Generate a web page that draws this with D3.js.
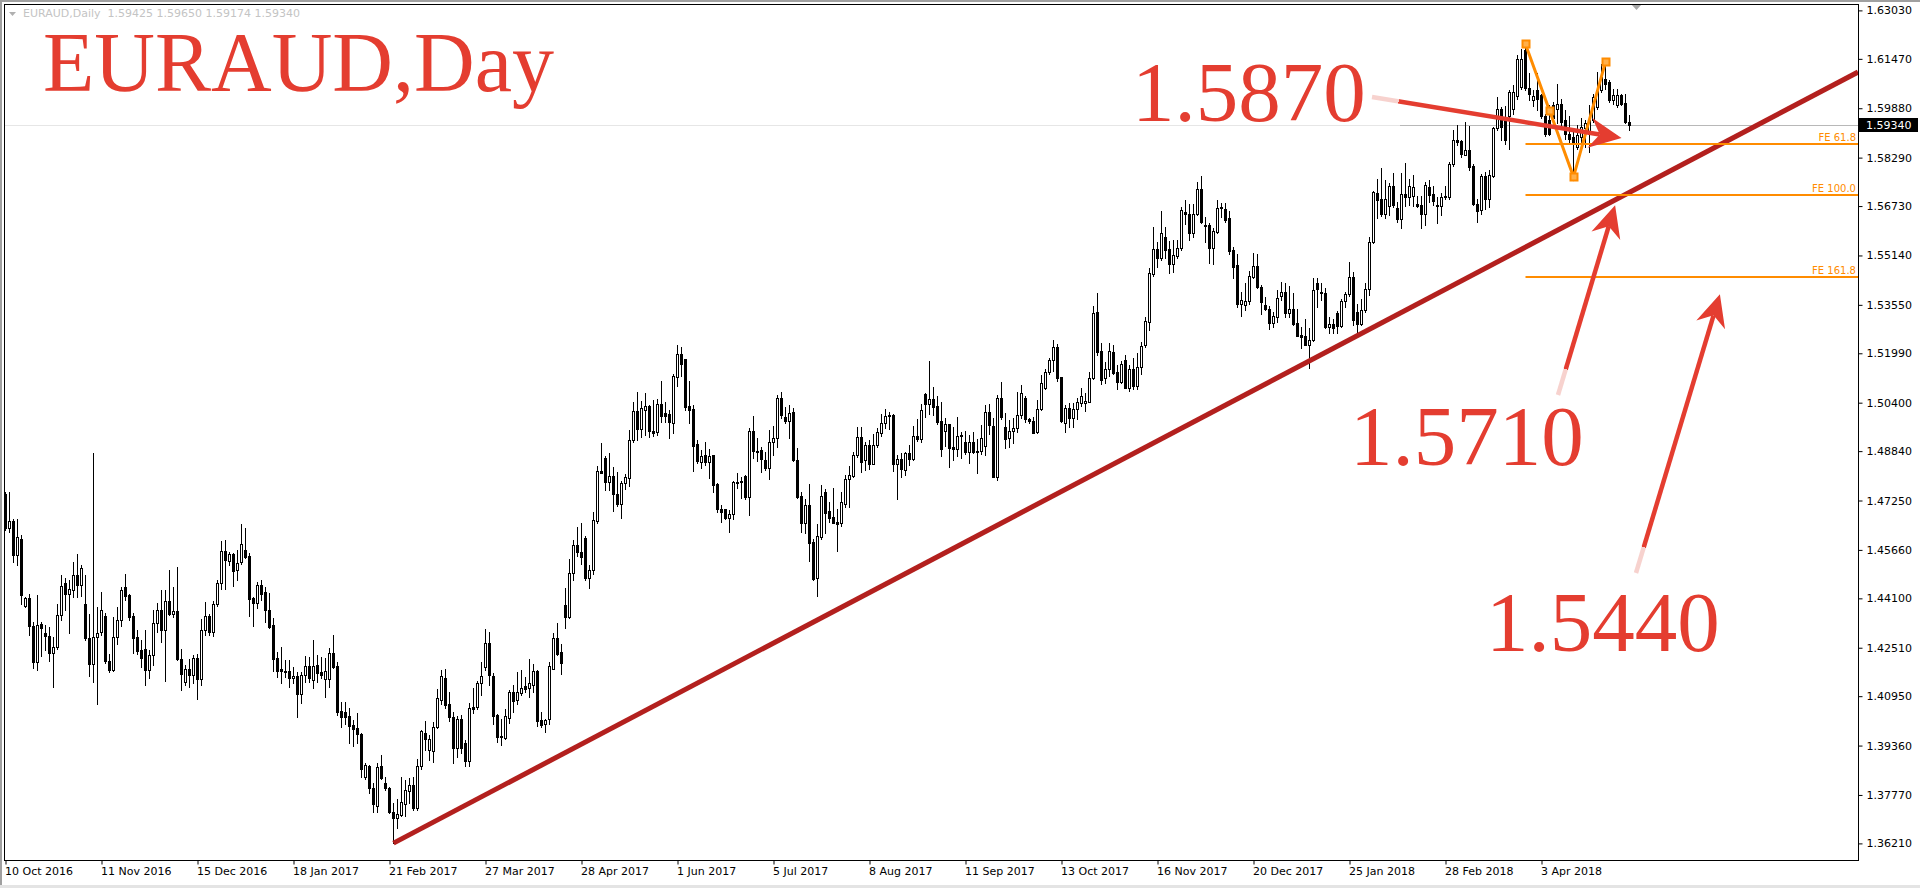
<!DOCTYPE html>
<html>
<head>
<meta charset="utf-8">
<title>EURAUD, Day</title>
<script src="https://cdn.jsdelivr.net/npm/d3@7"></script>
<style>
  html, body { margin: 0; padding: 0; background: #fff; overflow: hidden; }
  svg { display: block; }
  text { white-space: pre; }
</style>
</head>
<body>
<svg id="chart" width="1920" height="888"></svg>
<script>
// Daily EURAUD bars from 10 Oct 2016, prices in 1/10000 units
var opens = [
  14747,14638,14658,14549,14600,14386,14412,14320,14205,14327,
  14297,14290,14235,14254,14355,14458,14425,14437,14484,14454,
  14393,14282,14200,14284,14302,14352,14209,14179,14286,14340,
  14446,14420,14352,14286,14243,14248,14179,14227,14332,14374,
  14307,14401,14361,14369,14216,14141,14181,14162,14219,14149,
  14307,14352,14301,14393,14458,14562,14531,14552,14500,14526,
  14565,14546,14410,14396,14453,14429,14374,14323,14217,14182,
  14177,14176,14152,14160,14101,14162,14192,14147,14195,14173,
  14151,14151,14233,14192,14046,14043,14031,14003,13991,13972,
  13834,13870,13798,13743,13870,13817,13798,13723,13702,13712,
  13747,13791,13809,13734,13871,13978,13922,13919,13997,14083,
  14155,14069,14029,13929,14021,13945,13887,14061,14059,14136,
  14190,14265,14159,14034,13963,13961,14025,14109,14082,14104,
  14127,14122,14130,14176,14018,14007,14021,14184,14281,14236,
  14388,14350,14493,14583,14558,14603,14476,14501,14659,14819,
  14862,14785,14803,14747,14713,14780,14798,14919,15013,14955,
  15016,15029,14949,14946,15035,15007,15003,14975,15123,15198,
  15180,15029,15019,14906,14849,14871,14849,14871,14778,14699,
  14697,14669,14683,14780,14787,14803,14737,14948,14886,14887,
  14855,14830,14912,14925,15056,14993,14982,15011,14857,14739,
  14653,14710,14592,14476,14608,14753,14691,14672,14657,14651,
  14713,14793,14805,14871,14928,14857,14903,14844,14903,14943,
  14973,14998,15000,14841,14860,14823,14879,14858,14932,14922,
  15067,15037,15051,15029,14981,14950,14970,14896,14890,14934,
  14912,14880,14914,14880,14884,14900,15011,14966,14802,15054,
  14961,14925,14950,14957,15000,15054,14986,14982,14947,15019,
  15088,15138,15177,15220,15122,14973,15022,14992,15019,15040,
  15038,15043,15118,15333,15206,15120,15150,15204,15138,15107,
  15179,15088,15150,15095,15154,15226,15301,15453,15534,15507,
  15572,15535,15485,15512,15537,15655,15647,15585,15646,15728,
  15612,15612,15539,15590,15671,15662,15633,15531,15483,15359,
  15356,15368,15445,15480,15413,15354,15341,15297,15317,15384,
  15395,15329,15343,15295,15258,15254,15227,15241,15424,15397,
  15394,15284,15293,15330,15287,15367,15390,15445,15333,15292,
  15338,15405,15556,15714,15695,15649,15673,15737,15668,15630,
  15711,15703,15706,15681,15676,15646,15733,15713,15673,15674,
  15706,15703,15810,15885,15882,15839,15855,15801,15681,15660,
  15770,15697,15770,15923,15984,15960,15962,15985,16027,16057,
  16175,16054,16016,16046,16030,15962,15951,15998,15987,16001,
  15949,15906,15894,15863,15896,15925,15906,15949,15992,16046,
  16083,16073,16014,15998,16030,16005,15943
];
var highs = [
  14753,14753,14665,14665,14615,14415,14423,14334,14422,14334,
  14323,14318,14286,14391,14484,14474,14468,14527,14554,14517,
  14484,14361,14879,14382,14430,14364,14232,14350,14382,14447,
  14487,14425,14363,14307,14275,14307,14243,14372,14395,14436,
  14436,14500,14447,14511,14248,14195,14216,14227,14232,14342,
  14399,14361,14401,14468,14595,14597,14558,14556,14565,14650,
  14635,14555,14415,14464,14469,14447,14428,14346,14238,14252,
  14211,14211,14190,14174,14174,14224,14222,14276,14227,14222,
  14217,14251,14292,14204,14077,14077,14056,14018,14042,13977,
  13879,13873,13814,13879,13905,13836,13804,13750,13763,13834,
  13825,13830,13834,13892,13986,14015,13970,14013,14118,14179,
  14181,14109,14045,14032,14034,13954,14072,14122,14144,14206,
  14310,14302,14170,14039,14023,14055,14114,14130,14173,14179,
  14157,14216,14200,14179,14045,14023,14206,14297,14331,14262,
  14442,14538,14599,14640,14651,14610,14517,14688,14835,14911,
  14868,14878,14833,14817,14788,14809,14951,15043,15075,15046,
  15072,15032,15048,15053,15109,15043,15018,15132,15225,15220,
  15182,15109,15032,14921,14887,14914,14892,14873,14780,14712,
  14699,14694,14787,14812,14801,14807,14957,14997,14925,14898,
  14882,14952,14965,15066,15075,15027,15032,15024,14893,14751,
  14730,14778,14600,14648,14775,14761,14719,14764,14699,14751,
  14807,14836,14882,14962,14962,14912,14919,14939,14959,15005,
  15019,15011,15002,14871,14879,14882,14905,14965,14987,15035,
  15072,15174,15091,15060,15041,14990,14972,14963,14993,14947,
  14949,14936,14945,14923,14968,15032,15035,14990,15065,15108,
  15006,14984,14990,15073,15097,15060,14990,14995,15049,15129,
  15148,15185,15242,15228,15124,15032,15040,15040,15056,15086,
  15070,15140,15351,15392,15233,15172,15233,15226,15161,15174,
  15193,15161,15183,15199,15236,15317,15472,15607,15556,15657,
  15607,15560,15564,15565,15671,15694,15681,15679,15749,15769,
  15638,15617,15601,15694,15683,15683,15657,15542,15520,15397,
  15424,15465,15522,15518,15418,15381,15351,15333,15402,15429,
  15424,15415,15392,15343,15284,15311,15279,15443,15443,15424,
  15408,15317,15311,15336,15375,15397,15494,15461,15357,15375,
  15426,15574,15722,15759,15794,15756,15746,15780,15687,15778,
  15812,15759,15772,15706,15706,15751,15756,15738,15703,15716,
  15737,15815,15917,15933,15885,15944,15930,15810,15697,15776,
  15783,15788,15928,16024,15992,15994,16046,16062,16159,16180,
  16195,16100,16046,16100,16035,15971,15998,16008,16067,16019,
  15982,15962,15917,15933,15955,15949,15998,16035,16105,16132,
  16137,16078,16051,16051,16035,16035,15965
];
var lows = [
  14629,14624,14527,14517,14391,14382,14291,14186,14179,14224,
  14243,14209,14125,14248,14340,14372,14297,14415,14415,14419,
  14277,14159,14141,14071,14291,14202,14173,14177,14262,14321,
  14406,14340,14235,14232,14189,14130,14152,14194,14302,14268,
  14144,14356,14350,14211,14116,14130,14123,14136,14087,14132,
  14291,14291,14289,14386,14441,14441,14517,14450,14468,14519,
  14539,14353,14321,14380,14405,14335,14313,14177,14156,14138,
  14158,14126,14138,14027,14074,14142,14142,14120,14142,14152,
  14093,14126,14185,14036,13995,14007,13945,13936,13945,13836,
  13827,13782,13723,13723,13827,13793,13718,13623,13670,13709,
  13709,13752,13728,13728,13862,13922,13889,13884,13991,14070,
  14056,14015,13879,13900,13913,13870,13870,14040,14055,14098,
  14179,14130,14005,13948,13937,13956,14009,14045,14071,14100,
  14109,14093,14109,13998,13996,13980,14007,14181,14229,14168,
  14316,14348,14468,14546,14522,14468,14442,14487,14651,14812,
  14760,14760,14692,14707,14670,14761,14772,14914,14919,14930,
  14937,14930,14933,14937,14978,14978,14927,14941,15094,15126,
  15016,14973,14820,14846,14831,14839,14799,14753,14689,14657,
  14665,14624,14667,14764,14732,14730,14678,14862,14853,14817,
  14823,14794,14871,14898,14991,14973,14927,14852,14734,14624,
  14619,14531,14469,14418,14600,14619,14657,14651,14563,14644,
  14705,14705,14801,14865,14817,14823,14828,14841,14898,14933,
  14957,14955,14820,14730,14801,14807,14839,14855,14915,14912,
  14995,15005,15000,14970,14869,14902,14834,14855,14869,14863,
  14875,14845,14877,14813,14875,14871,14938,14800,14791,14986,
  14895,14898,14909,14947,14990,14979,14973,14941,14941,15016,
  15084,15131,15142,15110,14979,14947,14963,14963,14987,15030,
  15013,15041,15115,15193,15100,15104,15127,15132,15084,15104,
  15086,15077,15084,15084,15132,15220,15274,15448,15478,15499,
  15505,15456,15462,15505,15533,15615,15565,15572,15644,15619,
  15558,15490,15485,15587,15638,15622,15518,15440,15347,15320,
  15338,15359,15443,15408,15325,15338,15276,15284,15300,15370,
  15317,15317,15290,15254,15217,15225,15153,15239,15349,15372,
  15279,15263,15265,15265,15284,15349,15384,15290,15261,15290,
  15333,15386,15553,15633,15642,15633,15644,15671,15622,15604,
  15674,15676,15674,15670,15604,15611,15686,15676,15617,15644,
  15697,15697,15801,15869,15831,15837,15788,15676,15622,15649,
  15665,15670,15767,15917,15885,15874,15858,15971,16019,16051,
  16048,16014,15994,15982,15955,15898,15901,15944,15939,15928,
  15890,15874,15770,15858,15869,15863,15847,15944,15987,16041,
  16051,16008,16003,15992,15998,15939,15917
];
var closes = [
  14635,14658,14551,14606,14422,14412,14320,14205,14323,14313,
  14289,14235,14254,14355,14451,14425,14439,14484,14454,14509,
  14283,14200,14284,14300,14374,14209,14179,14286,14340,14436,
  14418,14350,14283,14240,14219,14179,14227,14332,14374,14307,
  14401,14361,14369,14214,14165,14181,14162,14219,14149,14307,
  14352,14301,14393,14458,14562,14533,14552,14498,14525,14584,
  14544,14408,14396,14453,14423,14374,14317,14215,14177,14177,
  14175,14152,14160,14101,14162,14192,14152,14192,14171,14164,
  14176,14233,14190,14043,14027,14029,14000,13989,13972,13859,
  13872,13798,13747,13868,13830,13798,13723,13704,13716,13753,
  13793,13809,13734,13871,13983,13956,13956,13997,14088,14161,
  14066,14029,13929,14021,13927,13887,14056,14054,14138,14159,
  14265,14163,14032,13964,13966,14031,14107,14080,14107,14120,
  14119,14139,14176,14016,14002,14018,14192,14281,14232,14203,
  14350,14493,14583,14560,14544,14476,14501,14662,14819,14814,
  14785,14803,14747,14713,14780,14801,14921,15013,14955,15023,
  15029,14948,14943,15035,14996,14997,14978,15125,15198,15163,
  15026,15016,14900,14853,14868,14849,14869,14775,14697,14689,
  14669,14683,14783,14785,14783,14737,14948,14885,14884,14858,
  14830,14912,14926,15054,15000,14981,15008,14855,14737,14653,
  14712,14589,14472,14610,14739,14686,14669,14653,14650,14719,
  14793,14807,14873,14928,14850,14903,14843,14903,14944,14976,
  14998,15000,14844,14860,14825,14877,14860,14932,14922,15016,
  15036,15051,15027,14978,14890,14970,14895,14890,14934,14936,
  14880,14914,14882,14884,14925,15011,14968,14802,15054,14995,
  14922,14950,14957,15000,15070,14986,14982,14943,15019,15102,
  15138,15177,15220,15120,14981,15022,14992,15019,15041,15061,
  15045,15118,15330,15204,15113,15150,15206,15136,15107,15163,
  15088,15150,15095,15154,15222,15303,15456,15534,15507,15585,
  15531,15485,15515,15537,15660,15646,15585,15647,15728,15622,
  15608,15539,15592,15668,15667,15628,15529,15477,15359,15372,
  15367,15447,15480,15411,15365,15340,15297,15319,15376,15395,
  15329,15343,15293,15255,15250,15227,15243,15402,15405,15392,
  15284,15293,15282,15287,15367,15390,15445,15306,15292,15338,
  15405,15556,15717,15692,15647,15697,15737,15676,15630,15711,
  15703,15737,15735,15674,15646,15740,15710,15690,15676,15703,
  15703,15810,15887,15880,15840,15855,15799,15679,15656,15770,
  15697,15772,15923,15984,15928,15887,16041,16041,16145,16145,
  16054,16033,16027,16019,15962,15906,15906,15958,16001,15944,
  15906,15890,15880,15901,15928,15940,15949,16024,16046,16089,
  16067,16014,16030,16030,16003,15944,15934
];

// Date labels, one every 24 bars
var dateLabels = [
  '10 Oct 2016', '11 Nov 2016', '15 Dec 2016', '18 Jan 2017', '21 Feb 2017',
  '27 Mar 2017', '28 Apr 2017', '1 Jun 2017', '5 Jul 2017', '8 Aug 2017',
  '11 Sep 2017', '13 Oct 2017', '16 Nov 2017', '20 Dec 2017', '25 Jan 2018',
  '28 Feb 2018', '3 Apr 2018'
];
var labelStep = 24;

var priceLabels = [
  1.63030, 1.61470, 1.59880, 1.58290, 1.56730, 1.55140, 1.53550, 1.51990, 1.50400,
  1.48840, 1.47250, 1.45660, 1.44100, 1.42510, 1.40950, 1.39360, 1.37770, 1.36210
];

var symbolName = 'EURAUD,Daily';
var lastQuote = ['1.59425', '1.59650', '1.59174', '1.59340'];
var bidPrice = 1.59340;

// trend line anchors: [bar index, price]
var trendAnchors = [[97, 1.3622], [352, 1.5351]];

// Fibonacci expansion points A, B, C: [bar index, price]
var fePoints = [[380, 1.6194], [392, 1.5767], [400, 1.6137]];
var feRatios = [0.618, 1.0, 1.618];
var feNames = ['FE 61.8', 'FE 100.0', 'FE 161.8'];

// target callouts and where their arrows point: [bar index, price]
var callouts = ['1.5870', '1.5710', '1.5440'];
var calloutTips = [[404, 1.5892], [402.4, 1.5676], [428.6, 1.5389]];

// ---------------------------------------------------------------

var RED = '#e43d30';
var ORANGE = '#ff8c00';
var W = 1920, H = 888;
var plot = {left: 4, top: 4, right: 1858, bottom: 860};

var svg = d3.select('#chart');
var defs = svg.append('defs');

var n = Math.min(opens.length, highs.length, lows.length, closes.length);
var bars = d3.range(n).map(function (i) {
  return {i: i, o: opens[i] / 1e4, h: highs[i] / 1e4, l: lows[i] / 1e4, c: closes[i] / 1e4};
});

var x = d3.scaleLinear().domain([0, 1]).range([5.5, 9.5]);
var y = d3.scaleLinear().domain([1.6303, 1.3621]).range([10.4, 843.4]);
var snap = function (v) { return Math.round(v) + 0.5; };

// window background and frame
svg.append('rect').attr('width', W).attr('height', H).attr('fill', '#fff');
svg.append('rect').attr('width', W).attr('height', 2).attr('fill', '#a0a0a0');
svg.append('rect').attr('width', 2).attr('height', H).attr('fill', '#a0a0a0');
svg.append('rect').attr('y', H - 3).attr('width', W).attr('height', 3).attr('fill', '#e4e4e4');

defs.append('clipPath').attr('id', 'plot-clip')
  .append('rect')
  .attr('x', plot.left).attr('y', plot.top)
  .attr('width', plot.right - plot.left).attr('height', plot.bottom - plot.top);

var plotG = svg.append('g').attr('clip-path', 'url(#plot-clip)');

// bid line
var bidY = snap(y(bidPrice));
plotG.append('line').attr('x1', plot.left).attr('x2', 1400).attr('y1', bidY).attr('y2', bidY)
  .attr('stroke', '#e6e6e6').attr('stroke-width', 1);
plotG.append('line').attr('x1', 1400).attr('x2', plot.right).attr('y1', bidY).attr('y2', bidY)
  .attr('stroke', '#b8b8b8').attr('stroke-width', 1);

// candles
var candle = plotG.append('g').selectAll('g').data(bars).join('g');
candle.append('line')
  .attr('x1', function (d) { return x(d.i); })
  .attr('x2', function (d) { return x(d.i); })
  .attr('y1', function (d) { return Math.round(y(d.h)); })
  .attr('y2', function (d) { return Math.round(y(d.l)) + 1; })
  .attr('stroke', '#000').attr('stroke-width', 1);
candle.append('rect')
  .attr('x', function (d) { return x(d.i) - 1; })
  .attr('y', function (d) { return snap(y(Math.max(d.o, d.c))); })
  .attr('width', 2)
  .attr('height', function (d) {
    return Math.max(1, snap(y(Math.min(d.o, d.c))) - snap(y(Math.max(d.o, d.c))));
  })
  .attr('fill', function (d) { return d.c >= d.o ? '#fff' : '#000'; })
  .attr('stroke', '#000').attr('stroke-width', 1);

// trend line, extended to the right edge
var t0 = [x(trendAnchors[0][0]), y(trendAnchors[0][1])];
var t1 = [x(trendAnchors[1][0]), y(trendAnchors[1][1])];
var slope = (t1[1] - t0[1]) / (t1[0] - t0[0]);
plotG.append('line')
  .attr('x1', t0[0]).attr('y1', t0[1])
  .attr('x2', plot.right).attr('y2', t0[1] + slope * (plot.right - t0[0]))
  .attr('stroke', '#b3201e').attr('stroke-width', 5);

// Fibonacci expansion
var A = fePoints[0], B = fePoints[1], C = fePoints[2];
var feLevels = feRatios.map(function (r) { return C[1] - r * (A[1] - B[1]); });
feLevels.forEach(function (lv, k) {
  var ly = Math.round(y(lv));
  plotG.append('line')
    .attr('x1', x(A[0])).attr('x2', plot.right)
    .attr('y1', ly).attr('y2', ly)
    .attr('stroke', ORANGE).attr('stroke-width', 2);
  plotG.append('text')
    .attr('x', plot.right - 2).attr('y', ly - 3)
    .attr('text-anchor', 'end')
    .attr('font-family', 'DejaVu Sans').attr('font-size', 10)
    .attr('fill', ORANGE)
    .text(feNames[k]);
});
var zig = fePoints.map(function (p) { return [x(p[0]), y(p[1])]; });
plotG.append('path')
  .attr('d', d3.line()(zig))
  .attr('fill', 'none').attr('stroke', ORANGE).attr('stroke-width', 3)
  .attr('stroke-linejoin', 'miter');
var handles = [zig[0], [(zig[0][0] + zig[1][0]) / 2, (zig[0][1] + zig[1][1]) / 2], zig[1], zig[2]];
plotG.selectAll('rect.handle').data(handles).join('rect')
  .attr('class', 'handle')
  .attr('x', function (d) { return Math.round(d[0]) - 3.5; })
  .attr('y', function (d) { return Math.round(d[1]) - 3.5; })
  .attr('width', 7).attr('height', 7)
  .attr('fill', '#ffb04a').attr('stroke', ORANGE).attr('stroke-width', 2);

// header text
svg.append('path').attr('d', 'M9,12 L16,12 L12.5,16 Z').attr('fill', '#b0b0b0');
svg.append('text')
  .attr('x', 23).attr('y', 17)
  .attr('font-family', 'DejaVu Sans').attr('font-size', 11)
  .attr('fill', '#c4c4c4')
  .text(symbolName + '  ' + lastQuote.join(' '));

// big title
svg.append('text')
  .attr('x', 43).attr('y', 91)
  .attr('font-family', 'Liberation Serif').attr('font-size', 84)
  .attr('fill', RED)
  .text('EURAUD,Day');

// chart shift marker
svg.append('path').attr('d', 'M1631,4 L1642,4 L1636.5,10 Z').attr('fill', '#a8a8a8');

// callouts with arrows
var calloutPos = [[1132, 121], [1350, 465], [1486, 651]];
var arrowTails = [[1372, 97], [1558, 395], [1636, 573]];

function drawArrow(tail, tip, id) {
  var dx = tip[0] - tail[0], dy = tip[1] - tail[1];
  var len = Math.hypot(dx, dy);
  var ux = dx / len, uy = dy / len, nx = -uy, ny = ux;
  var headLen = 32, half = 15, notch = 22, pale = 27;
  var grad = defs.append('linearGradient').attr('id', id)
    .attr('gradientUnits', 'userSpaceOnUse')
    .attr('x1', tail[0]).attr('y1', tail[1]).attr('x2', tip[0]).attr('y2', tip[1]);
  var t = pale / len;
  grad.append('stop').attr('offset', 0).attr('stop-color', '#f7d2ce');
  grad.append('stop').attr('offset', t).attr('stop-color', '#f7d2ce');
  grad.append('stop').attr('offset', t).attr('stop-color', RED);
  grad.append('stop').attr('offset', 1).attr('stop-color', RED);
  var nb = [tip[0] - notch * ux, tip[1] - notch * uy];
  svg.append('line')
    .attr('x1', tail[0]).attr('y1', tail[1]).attr('x2', nb[0]).attr('y2', nb[1])
    .attr('stroke', 'url(#' + id + ')').attr('stroke-width', 4.5);
  var back = [tip[0] - headLen * ux, tip[1] - headLen * uy];
  var pts = [
    tip,
    [back[0] + half * nx, back[1] + half * ny],
    nb,
    [back[0] - half * nx, back[1] - half * ny]
  ];
  svg.append('polygon').attr('points', pts.map(function (p) { return p.join(','); }).join(' '))
    .attr('fill', RED);
}

callouts.forEach(function (label, k) {
  var tip = [x(calloutTips[k][0]), y(calloutTips[k][1])];
  drawArrow(arrowTails[k], tip, 'arrow-grad-' + k);
  svg.append('text')
    .attr('x', calloutPos[k][0]).attr('y', calloutPos[k][1])
    .attr('font-family', 'Liberation Serif').attr('font-size', 85)
    .attr('fill', RED)
    .text(label);
});

// plot frame
svg.append('rect')
  .attr('x', plot.left + 0.5).attr('y', plot.top + 0.5)
  .attr('width', plot.right - plot.left).attr('height', plot.bottom - plot.top)
  .attr('fill', 'none').attr('stroke', '#000').attr('stroke-width', 1);

// price axis
svg.append('g')
  .attr('transform', 'translate(' + (plot.right + 0.5) + ',0)')
  .call(d3.axisRight(y).tickValues(priceLabels).tickSize(4).tickPadding(4)
    .tickFormat(d3.format('.5f')))
  .call(function (g) { g.select('.domain').remove(); })
  .attr('font-family', 'DejaVu Sans').attr('font-size', 11).attr('color', '#000');

// time axis
svg.append('g')
  .attr('transform', 'translate(0,' + (plot.bottom + 0.5) + ')')
  .call(d3.axisBottom(x)
    .tickValues(dateLabels.map(function (_, k) { return k * labelStep; }))
    .tickSize(4).tickPadding(3)
    .tickFormat(function (d, k) { return dateLabels[k]; }))
  .call(function (g) { g.select('.domain').remove(); })
  .call(function (g) { g.selectAll('text').attr('text-anchor', 'start').attr('dx', -1); })
  .attr('font-family', 'DejaVu Sans').attr('font-size', 11).attr('color', '#000');

// bid price tag on the axis
svg.append('rect')
  .attr('x', plot.right + 1).attr('y', Math.round(y(bidPrice)) - 7)
  .attr('width', 59).attr('height', 14).attr('fill', '#000');
svg.append('text')
  .attr('x', plot.right + 8).attr('y', y(bidPrice))
  .attr('dy', '0.35em')
  .attr('font-family', 'DejaVu Sans').attr('font-size', 11)
  .attr('fill', '#fff')
  .text(d3.format('.5f')(bidPrice));
</script>
</body>
</html>
